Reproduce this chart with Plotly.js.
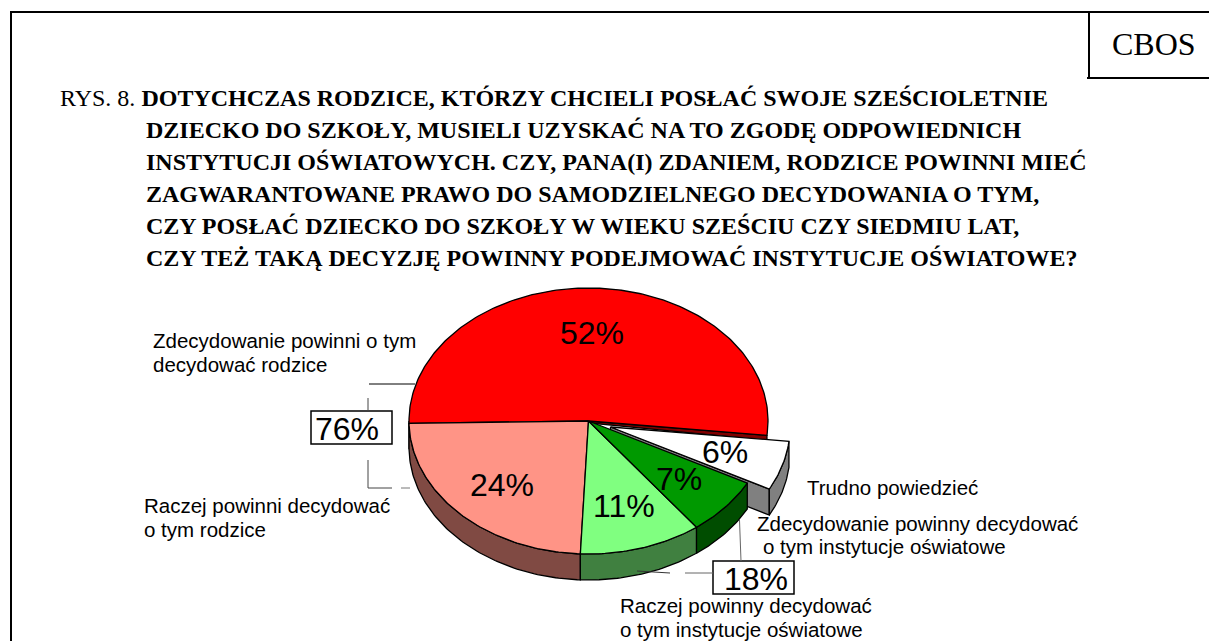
<!DOCTYPE html>
<html><head><meta charset="utf-8">
<script src="https://cdn.plot.ly/plotly-3.0.1.min.js"></script>
<style>html,body{margin:0;padding:0;background:#fff}</style></head>
<body><div id="chart" style="width:1209px;height:641px"></div>
<script>
// ---- data ----
const categories = [
  "Zdecydowanie powinni o tym decydować rodzice",
  "Raczej powinni decydować o tym rodzice",
  "Raczej powinny decydować o tym instytucje oświatowe",
  "Zdecydowanie powinny decydować o tym instytucje oświatowe",
  "Trudno powiedzieć"
];
const values = [52, 24, 11, 7, 6];
const valueLabels = ["52%", "24%", "11%", "7%", "6%"];
const groupLabels = ["76%", "18%"];
const topColors = ["#FF0000", "#FF9486", "#80FF80", "#009900", "#FFFFFF"];
const wallColors = ["#800000", "#804A43", "#408040", "#004D00", "#808080"];
const titleLines = [
  "RYS. 8. <b>DOTYCHCZAS RODZICE, KTÓRZY CHCIELI POSŁAĆ SWOJE SZEŚCIOLETNIE</b>",
  "<b>DZIECKO DO SZKOŁY, MUSIELI UZYSKAĆ NA TO ZGODĘ ODPOWIEDNICH</b>",
  "<b>INSTYTUCJI OŚWIATOWYCH. CZY, PANA(I) ZDANIEM, RODZICE POWINNI MIEĆ</b>",
  "<b>ZAGWARANTOWANE PRAWO DO SAMODZIELNEGO DECYDOWANIA O TYM,</b>",
  "<b>CZY POSŁAĆ DZIECKO DO SZKOŁY W WIEKU SZEŚCIU CZY SIEDMIU LAT,</b>",
  "<b>CZY TEŻ TAKĄ DECYZJĘ POWINNY PODEJMOWAĆ INSTYTUCJE OŚWIATOWE?</b>"
];

// ---- pie geometry ----
const CX = 588.5, CY = 421, RX = 179.5, RY = 133, DEPTH = 26, START = -6.2;
const EXPLODE = {4: [22, 6]};
const rad = d => d * Math.PI / 180;
const pt = (t, dx, dy) => [CX + dx + RX * Math.cos(rad(t)), CY + dy - RY * Math.sin(rad(t))];
function arc(t0, t1, dx, dy) {
  const out = [], n = Math.max(2, Math.ceil(Math.abs(t1 - t0)));
  for (let i = 0; i <= n; i++) out.push(pt(t0 + (t1 - t0) * i / n, dx, dy));
  return out;
}
function poly(points, fill, name) {
  const xs = points.map(p => p[0]), ys = points.map(p => p[1]);
  xs.push(xs[0]); ys.push(ys[0]);
  return {type: "scatter", mode: "lines", x: xs, y: ys, fill: "toself", fillcolor: fill, name: name,
          line: {color: "#000", width: 1.3}, hoverinfo: "name", showlegend: false};
}
const angles = [];
let acc = START;
values.forEach(v => { angles.push([acc, acc + 360 * v / 100]); acc += 360 * v / 100; });

const tops = [], walls = [], under = [];
values.forEach((v, i) => {
  const [t0, t1] = angles[i];
  const [dx, dy] = EXPLODE[i] || [0, 0];
  const top = [[CX + dx, CY + dy]].concat(arc(t0, t1, dx, dy));
  const piece = poly(top, topColors[i], categories[i]);
  if (EXPLODE[i]) {
    const a0 = pt(t0, dx, dy);
    under.push(poly([[CX + dx, CY + dy], a0, [a0[0], a0[1] + DEPTH], [CX + dx, CY + dy + DEPTH]], wallColors[i], categories[i]));
    const rim = arc(t0, t1, dx, dy);
    under.push(poly(rim.concat(rim.slice().reverse().map(p => [p[0], p[1] + DEPTH])), wallColors[i], categories[i]));
    under.push(piece);
  } else {
    tops.push(piece);
    const lo = Math.max(t0, 180), hi = Math.min(t1, 360);
    if (hi > lo) {
      const rim = arc(lo, hi, dx, dy);
      walls.push(poly(rim.concat(rim.slice().reverse().map(p => [p[0], p[1] + DEPTH])), wallColors[i], categories[i]));
    }
  }
});
const redEdge = pt(angles[0][0], 0, 0);
const redFace = poly([[CX, CY], redEdge, [redEdge[0], redEdge[1] + 5], [CX, CY + 2]], wallColors[0], categories[0]);
const traces = [redFace].concat(under, walls, tops);

// ---- text ----
const SERIF = "Liberation Serif", SANS = "Liberation Sans";
const ann = (x, y, text, size, family, anchor) => ({xref: "x", yref: "y", x, y, text, showarrow: false,
  xanchor: anchor || "left", yanchor: "middle", align: "left", font: {family, size, color: "#000"}});
const titleX = [58, 144, 144, 144, 144, 144];
const titleY = [98, 130, 162, 194, 226, 258];
const annotations = titleLines.map((t, i) => ann(titleX[i], titleY[i], t, 24, SERIF));
annotations.push(ann(1154, 44, "CBOS", 32, SERIF, "center"));
const sliceLabelX = [591.5, 502, 623.5, 679, 725], sliceLabelY = [333, 485, 506, 479, 452];
valueLabels.forEach((t, i) => annotations.push(ann(sliceLabelX[i], sliceLabelY[i], t, 32, SANS, "center")));
annotations.push(ann(347, 429, groupLabels[0], 32, SANS, "center"));
annotations.push(ann(756, 579, groupLabels[1], 32, SANS, "center"));
[
  [151, 340.5, "Zdecydowanie powinni o tym"], [151, 364.5, "decydować rodzice"],
  [142, 505.5, "Raczej powinni decydować"], [142, 529.5, "o tym rodzice"],
  [805, 487, "Trudno powiedzieć"],
  [755, 523.5, "Zdecydowanie powinny decydować"], [761, 546.5, "o tym instytucje oświatowe"],
  [618, 605.5, "Raczej powinny decydować"], [618, 629, "o tym instytucje oświatowe"]
].forEach(r => annotations.push(ann(r[0], r[1], r[2], 20.5, SANS)));

// ---- frame, boxes and leader lines ----
const seg = (x0, y0, x1, y1, color, width) => ({type: "line", xref: "x", yref: "y", x0, y0, x1, y1,
  line: {color: color || "#000", width: width || 1}, layer: "above"});
const box = (x0, y0, x1, y1) => ({type: "rect", xref: "x", yref: "y", x0, y0, x1, y1,
  fillcolor: "#fff", line: {color: "#000", width: 1.5}, layer: "below"});
const shapes = [
  seg(11, 12, 1209, 12, "#000", 2), seg(11, 11, 11, 641, "#000", 2),
  seg(1089, 12, 1089, 78, "#000", 2), seg(1087, 78, 1209, 78, "#000", 2),
  seg(369, 384, 415, 384), seg(368, 398, 368, 411, "#444"),
  seg(368, 460, 368, 488, "#444"), seg(368, 488, 392, 488, "#444"), seg(401, 488, 410, 488, "#777"),
  seg(739.5, 520, 741, 561, "#666"), seg(637, 571, 670, 573, "#333"), seg(685, 573, 713, 573, "#666"),
  box(311, 411, 392, 444), box(713, 561, 794, 594)
];

Plotly.newPlot("chart", traces, {
  width: 1209, height: 641, margin: {l: 0, r: 0, t: 0, b: 0},
  paper_bgcolor: "#fff", plot_bgcolor: "#fff", showlegend: false,
  xaxis: {range: [0, 1209], visible: false, fixedrange: true},
  yaxis: {range: [641, 0], visible: false, fixedrange: true},
  annotations, shapes
}, {displayModeBar: false});
</script></body></html>
